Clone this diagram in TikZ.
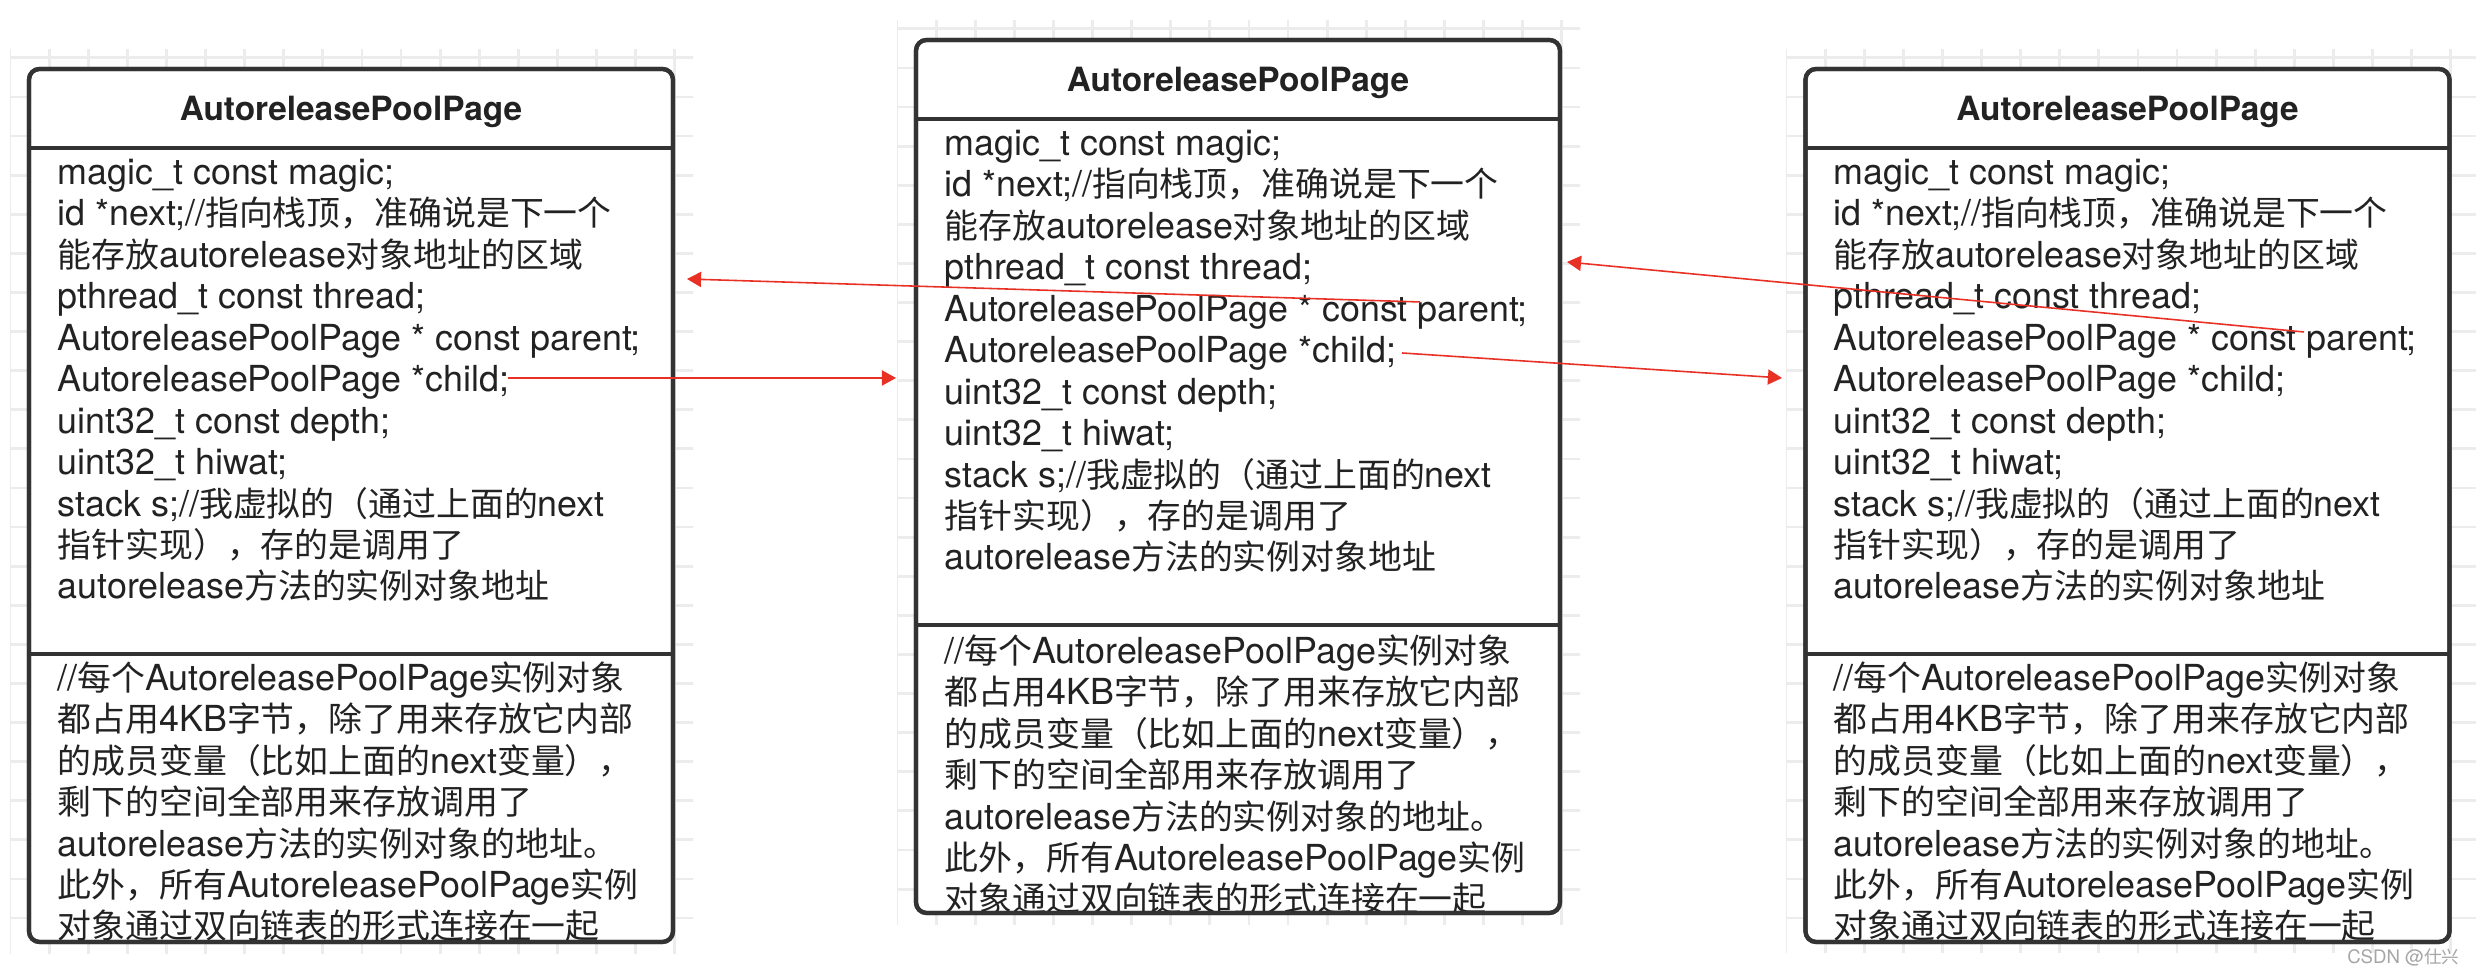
\documentclass[tikz,border=0pt]{standalone}
\usepackage{fontspec}
\setmainfont{TeX Gyre Heros}
\newfontfamily\cjkfont{Noto Sans CJK SC}[Scale=0.945]
\usepackage{xcolor}
\usepackage{tikz}
\definecolor{bordercolor}{RGB}{51, 51, 51}
\definecolor{textcolor}{RGB}{34, 34, 34}
\definecolor{linkcolor}{RGB}{232, 48, 36}
\definecolor{gridcolor}{RGB}{236, 236, 236}
\usetikzlibrary{arrows.meta, positioning, calc}

% switch to the CJK font for ideographs and full-width punctuation
\XeTeXinterchartokenstate=1
\newXeTeXintercharclass\cjkcharclass
\newcount\cjkcode
\cjkcode="3000
\loop
  \XeTeXcharclass\cjkcode=\cjkcharclass
  \advance\cjkcode by 1
\ifnum\cjkcode<"3040 \repeat
\cjkcode="4E00
\loop
  \XeTeXcharclass\cjkcode=\cjkcharclass
  \advance\cjkcode by 1
\ifnum\cjkcode<"A000 \repeat
\cjkcode="FF00
\loop
  \XeTeXcharclass\cjkcode=\cjkcharclass
  \advance\cjkcode by 1
\ifnum\cjkcode<"FFF0 \repeat
\XeTeXinterchartoks 0 \cjkcharclass = {\begingroup\cjkfont}
\XeTeXinterchartoks 4095 \cjkcharclass = {\begingroup\cjkfont}
\XeTeXinterchartoks \cjkcharclass 0 = {\endgroup}
\XeTeXinterchartoks \cjkcharclass 4095 = {\endgroup}

\newcommand{\pagefont}{\fontsize{10.2pt}{11.8pt}\selectfont}
\newcommand{\pagefields}{magic\_t const magic;\\
id *next;//指向栈顶，准确说是下一个\\
能存放autorelease对象地址的区域\\
pthread\_t const thread;\\
AutoreleasePoolPage * const parent;\\
AutoreleasePoolPage *child;\\
uint32\_t const depth;\\
uint32\_t hiwat;\\
stack s;//我虚拟的（通过上面的next\\
指针实现），存的是调用了\\
autorelease方法的实例对象地址}
\newcommand{\pagenote}{//每个AutoreleasePoolPage实例对象\\
都占用4KB字节，除了用来存放它内部\\
的成员变量（比如上面的next变量），\\
剩下的空间全部用来存放调用了\\
autorelease方法的实例对象的地址。\\
此外，所有AutoreleasePoolPage实例\\
对象通过双向链表的形式连接在一起}

\begin{document}
\begin{tikzpicture}[
    pagebox/.style={rectangle, draw=bordercolor, line width=1.2pt, rounded corners=3pt, fill=white, minimum width=6.44cm, minimum height=8.73cm, inner sep=0pt, outer sep=0pt},
    pageframe/.style={draw=bordercolor, line width=1.2pt, rounded corners=3pt},
    divider/.style={draw=bordercolor, line width=1.3pt},
    title/.style={font=\bfseries\fontsize{9.5pt}{11pt}\selectfont, text=textcolor},
    fields/.style={anchor=base west, align=left, inner sep=0pt, font=\pagefont, text=textcolor},
    gridline/.style={draw=gridcolor, line width=0.8pt},
    link/.style={draw=linkcolor, line width=0.45pt, -{Triangle[length=4pt, width=4.3pt]}}
]
    \fill[white] (0, 0) rectangle (24.76, 9.74);
    \useasboundingbox (0, 0) rectangle (24.76, 9.74);

    % Grids
    \begin{scope}
        \clip (0.10, 0.20) rectangle (6.93, 9.24);
        \draw[gridline, shift={(0.10, 8.77)}] (-1, -10) grid[step=0.391] (8, 1);
    \end{scope}
    \begin{scope}
        \clip (8.97, 0.49) rectangle (15.80, 9.53);
        \draw[gridline, shift={(8.97, 9.06)}] (-1, -10) grid[step=0.391] (8, 1);
    \end{scope}
    \begin{scope}
        \clip (17.86, 0.21) rectangle (24.76, 9.24);
        \draw[gridline, shift={(17.86, 8.77)}] (-1, -10) grid[step=0.391] (8, 1);
    \end{scope}

    % Left page (text nodes sit on their last baseline)
    \node[pagebox] (leftpage) at (3.51, 4.685) {};
    \node[title] (lefttitle) at (3.51, 8.62) {AutoreleasePoolPage};
    \draw[divider] ($(leftpage.north west)+(0,-0.79)$) -- ($(leftpage.north east)+(0,-0.79)$);
    \draw[divider] ($(leftpage.north west)+(0,-5.85)$) -- ($(leftpage.north east)+(0,-5.85)$);
    \node[fields] (leftfields) at (0.57, 3.75) {\pagefields};
    \node[fields] (leftnote) at (0.57, 0.35) {\pagenote};
    \draw[pageframe] (leftpage.south west) rectangle (leftpage.north east);

    % Middle page
    \node[pagebox] (midpage) at (12.38, 4.975) {};
    \node[title] (midtitle) at (12.38, 8.91) {AutoreleasePoolPage};
    \draw[divider] ($(midpage.north west)+(0,-0.79)$) -- ($(midpage.north east)+(0,-0.79)$);
    \draw[divider] ($(midpage.north west)+(0,-5.85)$) -- ($(midpage.north east)+(0,-5.85)$);
    \node[fields] (midfields) at (9.44, 4.04) {\pagefields};
    \node[fields] (midnote) at (9.44, 0.62) {\pagenote};
    \draw[pageframe] (midpage.south west) rectangle (midpage.north east);

    % Right page
    \node[pagebox] (rightpage) at (21.275, 4.685) {};
    \node[title] (righttitle) at (21.275, 8.62) {AutoreleasePoolPage};
    \draw[divider] ($(rightpage.north west)+(0,-0.79)$) -- ($(rightpage.north east)+(0,-0.79)$);
    \draw[divider] ($(rightpage.north west)+(0,-5.85)$) -- ($(rightpage.north east)+(0,-5.85)$);
    \node[fields] (rightfields) at (18.33, 3.75) {\pagefields};
    \node[fields] (rightnote) at (18.33, 0.35) {\pagenote};
    \draw[pageframe] (rightpage.south west) rectangle (rightpage.north east);

    % Links
    \coordinate (leftchild) at (5.08, 5.96);
    \coordinate (leftin) at (6.87, 6.95);
    \coordinate (midparent) at (14.20, 6.72);
    \coordinate (midchild) at (14.02, 6.21);
    \coordinate (midin) at (8.96, 5.96);
    \coordinate (midback) at (15.67, 7.12);
    \coordinate (rightparent) at (23.04, 6.42);
    \coordinate (rightin) at (17.82, 5.96);
    \draw[link] (midparent) -- (leftin);
    \draw[link] (leftchild) -- (midin);
    \draw[link] (rightparent) -- (midback);
    \draw[link] (midchild) -- (rightin);

    \node[anchor=east, inner sep=0pt, font=\fontsize{5.3pt}{6pt}\selectfont, text=gray!70] (watermark) at (24.60, 0.17) {CSDN @仕兴};
\end{tikzpicture}
\end{document}
